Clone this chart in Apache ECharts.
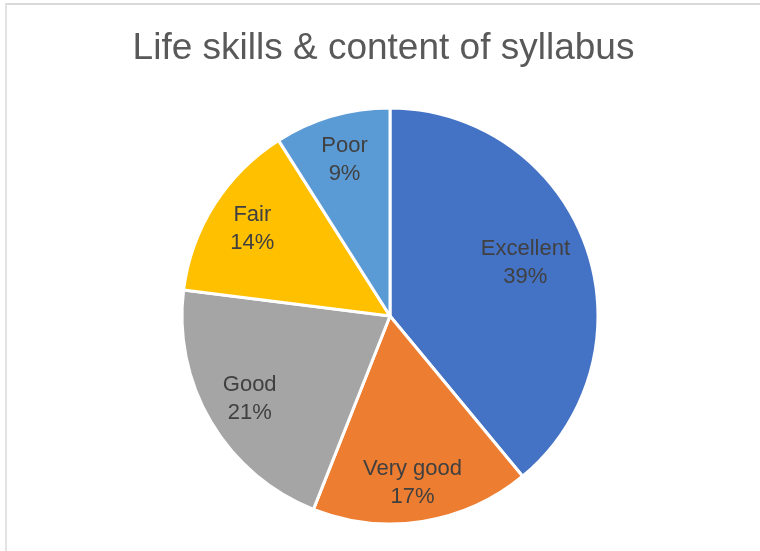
<!DOCTYPE html>
<html>
<head>
<meta charset="utf-8">
<script src="https://cdn.jsdelivr.net/npm/echarts@6/dist/echarts.min.js"></script>
<style>
    html, body { margin: 0; padding: 0; background: #fff; }
    #chart { position: absolute; left: 5px; top: 3px; width: 755px; height: 548px;
             border-top: 2px solid #d9d9d9; border-left: 2px solid #e3e3e3; box-sizing: border-box; }
</style>
</head>
<body>
<div id="chart"></div>
<script>
var categories = ['Excellent', 'Very good', 'Good', 'Fair', 'Poor'];
var values = [39, 17, 21, 14, 9];
var colors = ['#4472C4', '#ED7D31', '#A5A5A5', '#FFC000', '#5B9BD5'];

var myChart = echarts.init(document.getElementById('chart'));

var pieData = categories.map(function (name, i) {
    return { name: name, value: values[i], itemStyle: { color: colors[i] } };
});

// 外圈透明的饼，只用来把标签放到靠外的位置
var labelData = categories.map(function (name, i) {
    var item = { name: name, value: values[i] };
    if (i == 0) item.label = { offset: [-18, 2] };
    if (i == 1) item.label = { offset: [-3, 6] };
    return item;
});

var option = {
    animation: false,
    title: {
        text: 'Life skills & content of syllabus',
        left: 'center',
        top: 20,
        textStyle: {
            fontFamily: 'Liberation Sans',
            fontSize: 37,
            fontWeight: 'normal',
            color: '#595959'
        }
    },
    series: [{
        type: 'pie',
        center: [383, 311],
        radius: 208,
        startAngle: 90,
        clockwise: true,
        silent: true,
        itemStyle: { borderColor: '#fff', borderWidth: 3 },
        label: { show: false },
        labelLine: { show: false },
        data: pieData
    }, {
        type: 'pie',
        center: [383, 311],
        radius: [112, 208],
        startAngle: 90,
        clockwise: true,
        silent: true,
        itemStyle: { color: 'rgba(0,0,0,0)' },
        label: {
            show: true,
            position: 'inside',
            formatter: '{b}\n{d}%',
            fontFamily: 'Liberation Sans',
            fontSize: 22,
            lineHeight: 28,
            color: '#404040'
        },
        labelLine: { show: false },
        data: labelData
    }]
};
myChart.setOption(option);
</script>
</body>
</html>
